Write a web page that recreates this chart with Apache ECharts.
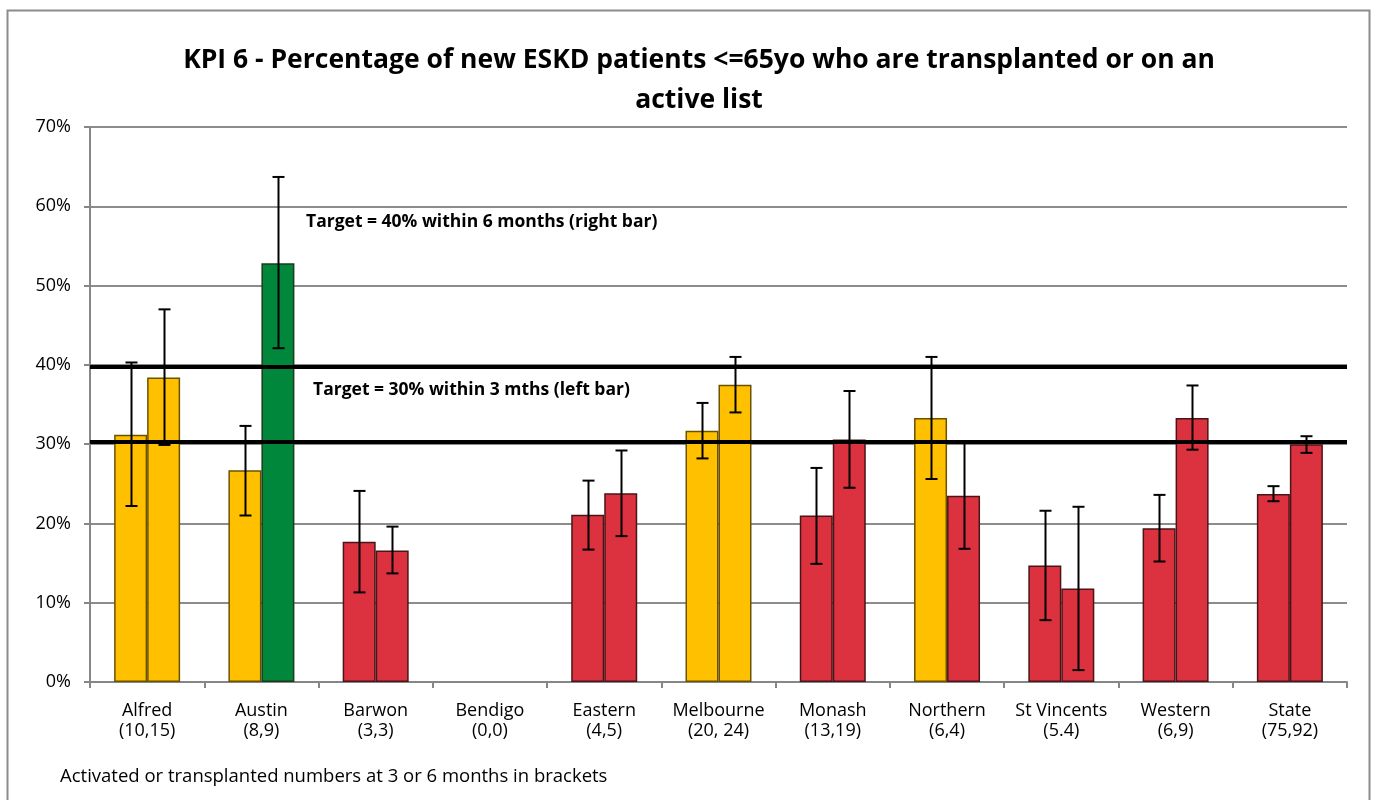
<!DOCTYPE html>
<html>
<head>
<meta charset="utf-8">
<script src="https://cdn.jsdelivr.net/npm/echarts@6/dist/echarts.min.js"></script>
<style>
    html, body { margin: 0; padding: 0; background: #fff; }
    #main { width: 1376px; height: 800px; }
</style>
</head>
<body>
<div id="main"></div>
<script>
var units = ['Alfred', 'Austin', 'Barwon', 'Bendigo', 'Eastern', 'Melbourne', 'Monash', 'Northern', 'St Vincents', 'Western', 'State'];
var counts = ['(10,15)', '(8,9)', '(3,3)', '(0,0)', '(4,5)', '(20, 24)', '(13,19)', '(6,4)', '(5.4)', '(6,9)', '(75,92)'];

// left bar = within 3 months, right bar = within 6 months (%)
var left3m = [31.2, 26.7, 17.7, null, 21.1, 31.7, 21.0, 33.3, 14.7, 19.4, 23.7];
var left3mLow = [22.2, 21.0, 11.3, null, 16.7, 28.2, 14.9, 25.6, 7.8, 15.2, 22.8];
var left3mHigh = [40.3, 32.3, 24.1, null, 25.4, 35.2, 27.0, 41.0, 21.6, 23.6, 24.7];
var right6m = [38.4, 52.8, 16.6, null, 23.8, 37.5, 30.6, 23.5, 11.8, 33.3, 30.0];
var right6mLow = [29.9, 42.1, 13.7, null, 18.4, 34.0, 24.5, 16.8, 1.5, 29.3, 28.9];
var right6mHigh = [47.0, 63.7, 19.6, null, 29.2, 41.0, 36.7, 30.3, 22.1, 37.4, 31.0];

// rating of each bar: 'amber', 'green', 'red'
var left3mStatus = ['amber', 'amber', 'red', null, 'red', 'amber', 'red', 'amber', 'red', 'red', 'red'];
var right6mStatus = ['amber', 'green', 'red', null, 'red', 'amber', 'red', 'red', 'red', 'red', 'red'];

var targetLines = [39.7, 30.3];

var statusColor = { amber: '#FFC000', green: '#00873B', red: '#DC323F' };
var statusBorder = { amber: '#6b5200', green: '#1c3b1c', red: '#4a1418' };
var barW = 33;

function barData(vals, status) {
    return vals.map(function (v, i) {
        if (v == null) return null;
        return {
            value: v,
            itemStyle: { color: statusColor[status[i]], borderColor: statusBorder[status[i]] }
        };
    });
}

function errData(low, high, side) {
    var out = [];
    for (var i = 0; i < low.length; i++) {
        if (low[i] == null) continue;
        out.push([i, low[i], high[i], side]);
    }
    return out;
}

function renderErr(params, api) {
    var side = api.value(3);
    var lo = api.coord([api.value(0), api.value(1)]);
    var hi = api.coord([api.value(0), api.value(2)]);
    var x = Math.round(lo[0] + side * barW / 2) + 0.5;
    var cap = 6;
    var st = { stroke: '#000', lineWidth: 2 };
    return {
        type: 'group',
        children: [
            { type: 'line', shape: { x1: x, y1: lo[1], x2: x, y2: hi[1] }, style: st },
            { type: 'line', shape: { x1: x - cap, y1: lo[1], x2: x + cap, y2: lo[1] }, style: st },
            { type: 'line', shape: { x1: x - cap, y1: hi[1], x2: x + cap, y2: hi[1] }, style: st }
        ]
    };
}

var myChart = echarts.init(document.getElementById('main'));

var font = '"Open Sans", "Liberation Sans", sans-serif';

var option = {
    backgroundColor: '#fff',
    animation: false,
    textStyle: { fontFamily: font },
    title: {
        text: 'KPI 6 - Percentage of new ESKD patients <=65yo who are transplanted or on an\nactive list',
        left: 694,
        textAlign: 'center',
        top: 35,
        textStyle: { fontSize: 26.5, fontWeight: 'bold', color: '#000', lineHeight: 40, fontFamily: font }
    },
    grid: { left: 90, right: 29, top: 127, bottom: 118 },
    xAxis: {
        type: 'category',
        data: units.map(function (u, i) { return u + '\n' + counts[i]; }),
        axisLine: { lineStyle: { color: '#868686', width: 2 } },
        axisTick: { show: true, length: 6, lineStyle: { color: '#868686', width: 2 } },
        axisLabel: { interval: 0, color: '#000', fontSize: 18, lineHeight: 20, margin: 19, fontFamily: font }
    },
    yAxis: {
        type: 'value',
        min: 0,
        max: 70,
        interval: 10,
        axisLine: { show: true, lineStyle: { color: '#868686', width: 2 } },
        axisTick: { show: true, length: 6, lineStyle: { color: '#868686', width: 2 } },
        axisLabel: { formatter: '{value}%', color: '#000', fontSize: 18, margin: 19, fontFamily: font },
        splitLine: { lineStyle: { color: '#8c8c8c', width: 2 } }
    },
    series: [{
        name: '3 months',
        type: 'bar',
        barWidth: barW,
        barGap: '0%',
        itemStyle: { borderWidth: 1.5 },
        data: barData(left3m, left3mStatus),
        markLine: {
            silent: true,
            symbol: 'none',
            z: 5,
            label: { show: false },
            lineStyle: { color: '#000', width: 4, type: 'solid' },
            data: targetLines.map(function (v) { return { yAxis: v }; })
        }
    }, {
        name: '6 months',
        type: 'bar',
        barWidth: barW,
        itemStyle: { borderWidth: 1.5 },
        data: barData(right6m, right6mStatus)
    }, {
        type: 'custom',
        z: 10,
        renderItem: renderErr,
        data: errData(left3mLow, left3mHigh, -1)
    }, {
        type: 'custom',
        z: 10,
        renderItem: renderErr,
        data: errData(right6mLow, right6mHigh, 1)
    }],
    graphic: [{
        type: 'rect',
        shape: { x: 7.5, y: 10.5, width: 1362, height: 800 },
        style: { fill: null, stroke: '#8c8c8c', lineWidth: 2 },
        silent: true
    }, {
        type: 'text',
        left: 306,
        top: 213,
        style: { text: 'Target = 40% within 6 months (right bar)', fontSize: 17.5, fontWeight: 'bold', fill: '#000', fontFamily: font }
    }, {
        type: 'text',
        left: 313,
        top: 381,
        style: { text: 'Target = 30% within 3 mths (left bar)', fontSize: 17.5, fontWeight: 'bold', fill: '#000', fontFamily: font }
    }, {
        type: 'text',
        left: 60,
        top: 767,
        style: { text: 'Activated or transplanted numbers at 3 or 6 months in brackets', fontSize: 18.5, fill: '#000', fontFamily: font }
    }]
};

myChart.setOption(option);
</script>
</body>
</html>
